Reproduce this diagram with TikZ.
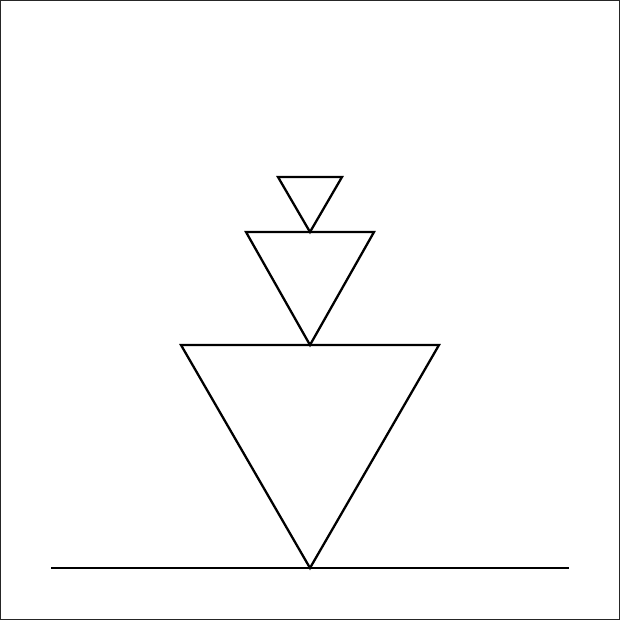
\documentclass[tikz,border=0pt]{standalone}
\begin{document}
\begin{tikzpicture}[x=0.02cm,y=-0.02cm,
    shape line/.style={black,line width=1.3pt,line join=miter}]
    % frame
    \useasboundingbox (0,0) rectangle (620,620);
    \draw[black!85,line width=0.7pt] (0.5,0.5) rectangle (619.5,619.5);
    % ground
    \draw[shape line] (51,568) -- (569,568);
    % stacked triangles: top edge y, half width, apex y
    \foreach \ytop/\half/\ybot in {345/129/568, 232/64/345, 177/32/232} {
        \draw[shape line] (310-\half,\ytop) -- (310+\half,\ytop) -- (310,\ybot) -- cycle;
    }
\end{tikzpicture}
\end{document}
